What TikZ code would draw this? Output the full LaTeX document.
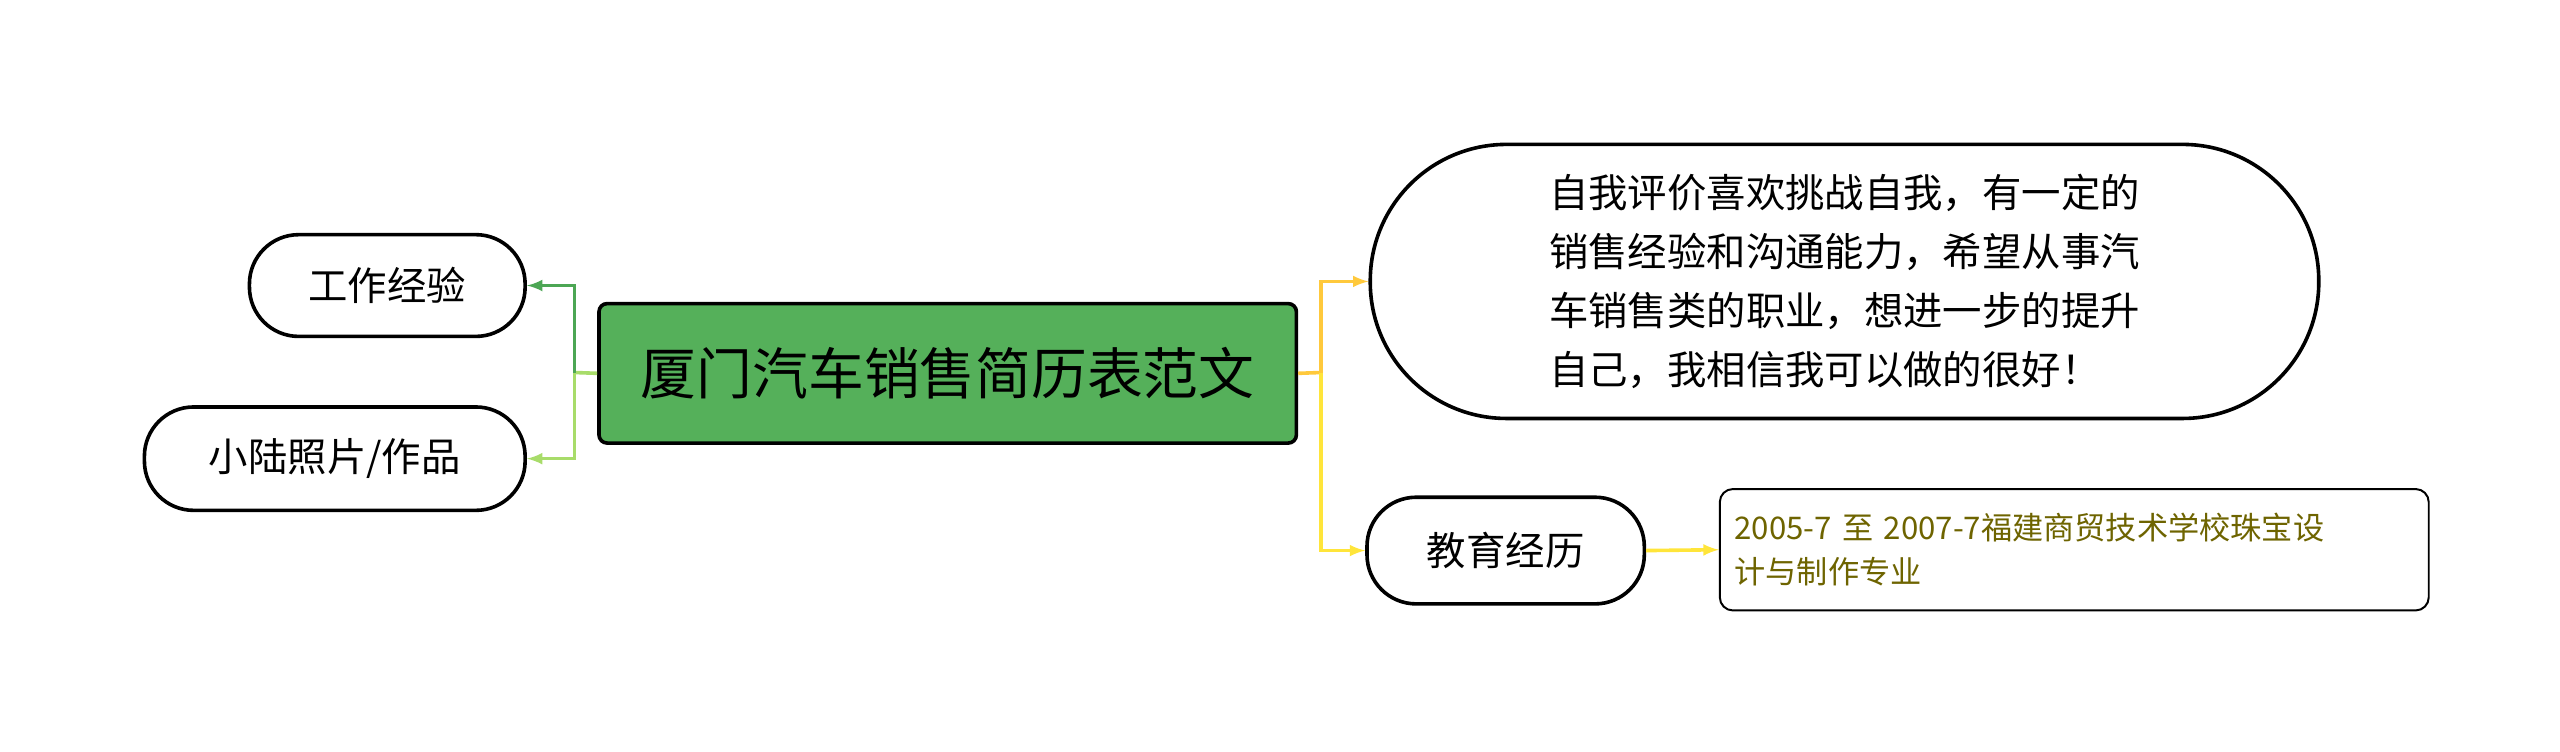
\documentclass[tikz,border=0pt]{standalone}
\usepackage{fontspec}
\setmainfont{Noto Sans CJK SC}
\usetikzlibrary{positioning}
\definecolor{rootgreen}{HTML}{55B05A}
\definecolor{darkgreen}{HTML}{4CA654}
\definecolor{lightgreen}{HTML}{A8DC6A}
\definecolor{orangeline}{HTML}{FFC93C}
\definecolor{yellowline}{HTML}{FFE53A}
\definecolor{olivetext}{HTML}{6E6400}
\tikzset{
  pill/.style={draw=black, line width=2.2pt, rounded corners=30pt, fill=white, font=\fontsize{24}{30}\selectfont, inner sep=0pt},
  leaf/.style={draw=black, line width=1.2pt, rounded corners=8pt, fill=white, font=\fontsize{19}{27}\selectfont, text=olivetext, align=left, inner xsep=9pt},
  link/.style={line width=2.2pt, -latex}
}
\begin{document}
\begin{tikzpicture}[x=1pt,y=1pt]
    \useasboundingbox (0,0) rectangle (1560,458);
    % root
    \node[draw=black, line width=2.2pt, rounded corners=5pt, fill=rootgreen, minimum width=425pt, minimum height=85pt, font=\fontsize{34}{40}\selectfont] (root) at (577.5,230.5) {厦门汽车销售简历表范文};
    % left side
    \node[pill, minimum width=168pt, minimum height=62pt] (work) at (236,284) {工作经验};
    \node[pill, minimum width=232pt, minimum height=63pt] (photo) at (204,178.5) {小陆照片/作品};
    % right side
    \node[draw=black, line width=2.2pt, rounded corners=83pt, fill=white, minimum width=578pt, minimum height=167pt, font=\fontsize{24}{36}\selectfont, align=left] (self) at (1124,286.5) {自我评价喜欢挑战自我，有一定的\\销售经验和沟通能力，希望从事汽\\车销售类的职业，想进一步的提升\\自己，我相信我可以做的很好！};
    \node[pill, minimum width=169pt, minimum height=65pt] (edu) at (917.5,122.5) {教育经历};
    \node[leaf, minimum width=432pt, minimum height=74pt, text width=414pt] (school) at (1264,123) {2005-7 至 2007-7福建商贸技术学校珠宝设\\计与制作专业};
    % connectors
    \coordinate (lj) at (350,231);
    \coordinate (rj) at (805,231);
    \draw[line width=2.2pt, lightgreen] (root.west) -- (lj);
    \draw[link, darkgreen] (lj) |- (work.east);
    \draw[link, lightgreen] (lj) |- (photo.east);
    \draw[line width=2.2pt, orangeline] (root.east) -- (rj);
    \draw[link, orangeline] (rj) |- (self.west);
    \draw[link, yellowline] (rj) |- (edu.west);
    \draw[link, yellowline] (edu.east) -- (school.west);
\end{tikzpicture}
\end{document}
